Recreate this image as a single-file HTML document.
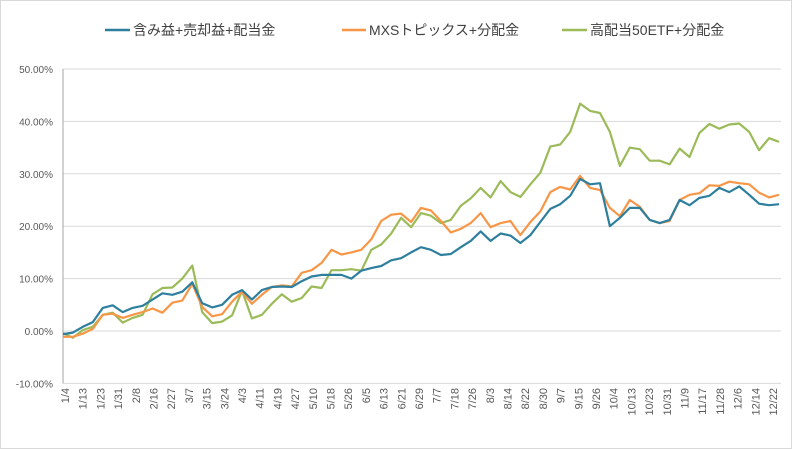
<!DOCTYPE html>
<html><head><meta charset="utf-8">
<style>
html,body{margin:0;padding:0;background:#fff;}
svg{display:block;font-family:"Liberation Sans","Noto Sans CJK JP",sans-serif;}
</style></head>
<body>
<svg id="chart" width="792" height="449" viewBox="0 0 792 449" xmlns="http://www.w3.org/2000/svg">
<rect x="0.5" y="0.5" width="791" height="448" fill="#fff" stroke="#d9d9d9"/>
<g id="grid"></g>
<g id="yax"></g>
<g id="xax"></g>
<g id="series"></g>
<g id="legend">
  <g>
    <line x1="105" y1="30" x2="130" y2="30" stroke="#2e7f9e" stroke-width="2.5"/>
    <text x="133" y="35" font-size="14" fill="#404040">含み益+売却益+配当金</text>
  </g>
  <g>
    <line x1="342" y1="30" x2="366" y2="30" stroke="#f79646" stroke-width="2.5"/>
    <text x="369" y="35" font-size="14" fill="#404040">MXSトピックス+分配金</text>
  </g>
  <g>
    <line x1="562" y1="30" x2="587" y2="30" stroke="#9bbb59" stroke-width="2.5"/>
    <text x="590" y="35" font-size="14" fill="#404040">高配当50ETF+分配金</text>
  </g>
</g>
</svg>
<script>
const xLabels = ["1/4","1/13","1/23","1/31","2/8","2/16","2/27","3/7","3/15","3/24","4/3","4/11","4/19","4/27","5/10","5/18","5/26","6/5","6/13","6/21","6/29","7/7","7/18","7/26","8/3","8/14","8/22","8/30","9/7","9/15","9/26","10/4","10/13","10/23","10/31","11/9","11/17","11/28","12/6","12/14","12/22"];
const yTicks = [-10,0,10,20,30,40,50];
const seriesBlue = [-0.6,-0.3,0.8,1.7,4.4,4.9,3.6,4.4,4.8,6.0,7.2,6.9,7.5,9.3,5.3,4.5,5.0,6.9,7.8,6.0,7.8,8.4,8.5,8.4,9.5,10.4,10.7,10.7,10.7,10.0,11.5,12.0,12.4,13.5,13.9,15.0,16.0,15.5,14.5,14.7,16.0,17.2,19.0,17.2,18.6,18.2,16.8,18.3,20.8,23.3,24.2,25.8,29.0,28.0,28.2,20.0,21.6,23.5,23.5,21.2,20.6,21.2,25.0,24.0,25.4,25.8,27.3,26.5,27.6,26.0,24.3,24.0,24.2];
const seriesOrange = [-1.1,-1.1,-0.5,0.4,3.1,3.3,2.5,3.1,3.6,4.3,3.5,5.4,5.8,9.0,4.6,2.8,3.2,5.6,7.5,5.2,6.9,8.4,8.7,8.5,11.1,11.6,13.0,15.5,14.6,15.0,15.5,17.5,21.0,22.2,22.4,20.8,23.5,23.0,21.0,18.8,19.5,20.6,22.5,19.8,20.6,21.0,18.3,20.8,22.8,26.5,27.5,27.0,29.6,27.3,26.9,23.5,21.9,25.0,23.7,21.2,20.6,21.0,25.0,26.0,26.3,27.8,27.7,28.5,28.2,28.0,26.4,25.5,26.0];
const seriesGreen = [-0.4,-1.3,0.2,0.8,3.1,3.5,1.6,2.5,3.1,7.0,8.2,8.3,10.0,12.5,3.6,1.5,1.8,3.0,7.7,2.4,3.1,5.2,7.0,5.6,6.3,8.5,8.2,11.6,11.6,11.8,11.5,15.5,16.5,18.6,21.6,19.8,22.5,22.0,20.6,21.2,23.9,25.3,27.3,25.5,28.6,26.5,25.6,28.0,30.2,35.2,35.6,38.0,43.4,42.0,41.6,38.0,31.5,35.0,34.7,32.5,32.5,31.8,34.8,33.2,37.8,39.5,38.6,39.4,39.6,38.0,34.5,36.8,36.1];

const NS="http://www.w3.org/2000/svg";
const X0=63, X1=779, Y0=331, PER10=52.4;
const yS = v => Y0 - v*PER10/10;
const xS = (i,n) => X0 + i*(X1-X0)/(n-1);
const labX = i => 65 + i*(773-65)/(xLabels.length-1);
function mk(tag, attrs, parent){const e=document.createElementNS(NS,tag);for(const k in attrs)e.setAttribute(k,attrs[k]);parent.appendChild(e);return e;}

const grid=document.getElementById('grid'), yax=document.getElementById('yax'), xax=document.getElementById('xax'), ser=document.getElementById('series');
yTicks.forEach(t=>{
  const l=mk('line',{x1:X0,x2:X1+2,y1:yS(t),y2:yS(t),stroke:'#d9d9d9','stroke-width':1},grid);
  
  
  const tx=mk('text',{x:53,y:yS(t)+4,'text-anchor':'end','font-size':10,fill:'#595959'},yax);
  tx.textContent=t.toFixed(2)+'%';
  
  
});
const ax=mk('line',{x1:X0,x2:X0,y1:yS(50),y2:yS(-10),stroke:'#a6a6a6','stroke-width':1},yax);


xLabels.forEach((s,i)=>{
  const x=labX(i);
  const tx=mk('text',{x:0,y:0,'text-anchor':'end','font-size':11,fill:'#595959',transform:`translate(${x+4},388) rotate(-90)`},xax);
  tx.textContent=s;
  
  
});
function drawLine(vals,color,name){
  const d=vals.map((v,i)=>(i?'L':'M')+xS(i,vals.length).toFixed(1)+','+yS(v).toFixed(1)).join(' ');
  const p=mk('path',{d:d,fill:'none',stroke:color,'stroke-width':2.2,'stroke-linejoin':'round'},ser);
  
  
}
drawLine(seriesGreen,'#9bbb59','series-green-line');
drawLine(seriesOrange,'#f79646','series-orange-line');
drawLine(seriesBlue,'#2e7f9e','series-blue-line');
</script>
</body></html>
